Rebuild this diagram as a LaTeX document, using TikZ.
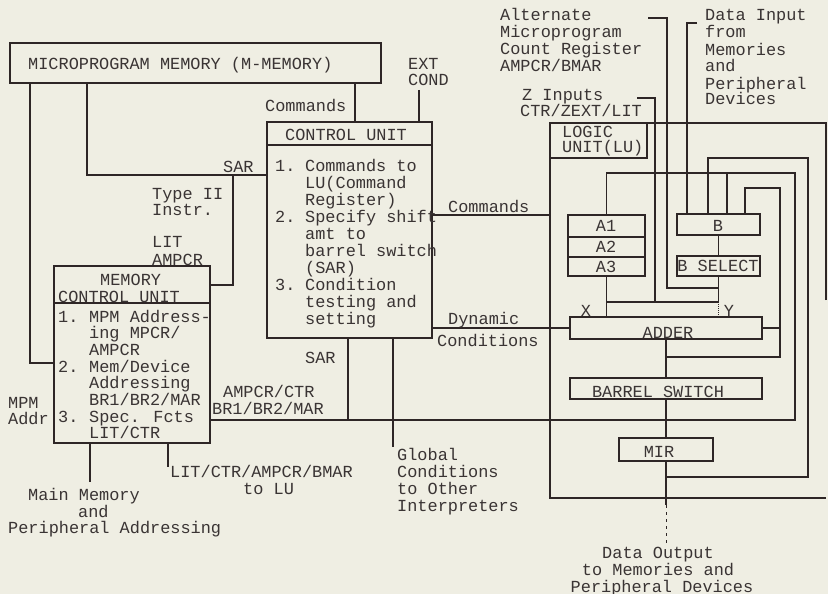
\documentclass[tikz,border=0pt]{standalone}
\usepackage{fontspec}
\newfontfamily\monofam{Liberation Mono}
\definecolor{ink}{HTML}{2E2626}
\definecolor{bg}{HTML}{EFEEE3}
\definecolor{txt}{HTML}{3A3434}
\begin{document}
\begin{tikzpicture}[x=1pt,y=-1pt,
 wire/.style={draw=ink,line width=1.3pt},
 blk/.style={draw=ink,line width=1.3pt,inner sep=0pt,outer sep=0pt,anchor=north west},
 t/.style={text=txt,font=\monofam\fontsize{16.9}{17}\selectfont,inner sep=0pt,anchor=base west},
 tc/.style={t,anchor=base}]
\useasboundingbox (0,0) rectangle (828,594);
\fill[bg] (0,0) rectangle (828,594);

% ---------- boxes ----------
\node[blk,minimum width=371pt,minimum height=40pt] (mpm) at (10,43) {};
\node[blk,minimum width=165pt,minimum height=216pt] (cu) at (267,122) {};
\node[blk,minimum width=156pt,minimum height=177pt] (mcu) at (54,266) {};
\node[inner sep=0pt,outer sep=0pt,anchor=north west,minimum width=276pt,minimum height=375pt] (lu) at (550,123) {};
\node[blk,minimum width=97pt,minimum height=35pt] (luh) at (550,123) {};
\node[blk,minimum width=77pt,minimum height=22pt] (a1) at (568,215) {};
\node[blk,minimum width=77pt,minimum height=20pt] (a2) at (568,237) {};
\node[blk,minimum width=77pt,minimum height=19pt] (a3) at (568,257) {};
\node[blk,minimum width=83pt,minimum height=21pt] (bb) at (677,214) {};
\node[blk,minimum width=83pt,minimum height=20pt] (bsel) at (677,256) {};
\node[blk,minimum width=192pt,minimum height=22pt] (adder) at (570,317) {};
\node[blk,minimum width=192pt,minimum height=21pt] (barrel) at (570,378) {};
\node[blk,minimum width=94pt,minimum height=23pt] (mir) at (619,438) {};

% LU outline (right edge only partly visible)
\draw[wire] (lu.east |- 0,300) -- (lu.north east) -- (lu.north west) -- (lu.south west) -- (lu.south east);
% header separators
\draw[wire] (cu.west |- 0,145) -- (cu.east |- 0,145);
\draw[wire] (mcu.west |- 0,303) -- (mcu.east |- 0,303);

% ---------- free ends / junctions ----------
\coordinate (j1) at (233,175);
\coordinate (extc) at (419,90);
\coordinate (zst) at (637,98);
\coordinate (altst) at (648,18);
\coordinate (din) at (697,23);
\coordinate (jb) at (727,173);
\coordinate (gc) at (393,447);
\coordinate (mm) at (90,482);
\coordinate (lt) at (168,467);
\coordinate (dout) at (666,543);

% ---------- connectors ----------
\draw[wire] (mpm.south -| 30,0) -- (30,363) -- (mcu.west |- 0,363);
\draw[wire] (mpm.south -| 87,0) |- (cu.west |- 0,175);
\draw[wire] (j1) |- (mcu.east |- 0,285);
\draw[wire] (mpm.south -| 355,0) -- (cu.north -| 355,0);
\draw[wire] (extc) -- (cu.north -| extc);
\draw[wire] (cu.east |- 0,215) -- (lu.west |- 0,215);
\draw[wire] (cu.east |- adder.west) -- (adder.west);
\draw[wire] (cu.south -| 348,0) -- (348,420);
\draw[wire] (cu.south -| gc) -- (gc);
% bus from memory control unit
\draw[wire] (mcu.east |- 0,420) -- (795,420) -- (795,173) -- (a1.north |- 0,173) -- (a1.north);
\draw[wire] (jb) -- (bb.north -| jb);
% inputs from above
\draw[wire] (zst) -- (655,98) -- (655,302);
\draw[wire] (altst) -- (667,18) -- (667,288) -- (bsel.south |- 0,288);
\draw[wire] (din) -- (687,23) -- (bb.north -| 687,0);
% X / Y
\draw[wire] (a3.south) -- (adder.north -| a3.south);
\draw[wire] (a3.south |- 0,302) -- (bsel.south |- 0,302);
\draw[wire] (bsel.south) -- (bsel.south |- 0,302);
\draw[draw=ink,line width=1pt,densely dotted] (bsel.south |- 0,302) -- (adder.north -| bsel.south);
\draw[wire] (bb.south) -- (bsel.north);
% adder feedback
\draw[wire] (adder.south) -- (barrel.north);
\draw[wire] (adder.south |- 0,357) -- (780,357) -- (780,188) -- (745,188) -- (bb.north -| 745,0);
\draw[wire] (adder.east) -- (adder.east -| 780,0);
% barrel / MIR
\draw[wire] (barrel.south) -- (mir.north -| barrel.south);
\draw[wire] (mir.south) -- (mir.south |- 0,477) -- (808,477) -- (808,158) -- (708,158) -- (bb.north -| 708,0);
\draw[wire] (mir.south |- 0,477) -- (mir.south |- 0,505);
\draw[draw=ink,line width=1pt,dashed,dash pattern=on 3pt off 4pt] (mir.south |- 0,505) -- (dout);
% memory control unit outputs
\draw[wire] (mcu.south -| mm) -- (mm);
\draw[wire] (mcu.south -| lt) -- (lt);

% ---------- texts ----------
\node[t] (tmpm) at (28,70) {MICROPROGRAM MEMORY (M-MEMORY)};
\node[t] (text1) at (408,70) {EXT};
\node[t] (text2) at (408,86) {COND};
\node[t] (tcmd1) at (265,112) {Commands};
\node[t] (tsar1) at (223,172) {SAR};
\node[t] (ttyp1) at (152,199) {Type II};
\node[t] (ttyp2) at (152,215) {Instr.};
\node[t] (tlit1) at (152,247) {LIT};
\node[t] (tlit2) at (152,265) {AMPCR};

\node[t] (tcuh) at (285,140) {CONTROL UNIT};
\node[t] (tcu1) at (275,171) {1.};
\node[t] (tcu1b) at (305,171) {Commands to};
\node[t] (tcu2) at (305,188) {LU(Command};
\node[t] (tcu3) at (305,205) {Register)};
\node[t] (tcu4) at (275,222) {2.};
\node[t] (tcu4b) at (305,222) {Specify shift};
\node[t] (tcu5) at (305,239) {amt to};
\node[t] (tcu6) at (305,256) {barrel switch};
\node[t] (tcu7) at (305,273) {(SAR)};
\node[t] (tcu8) at (275,290) {3.};
\node[t] (tcu8b) at (305,290) {Condition};
\node[t] (tcu9) at (305,307) {testing and};
\node[t] (tcu10) at (305,324) {setting};

\node[t] (tmch1) at (100,285) {MEMORY};
\node[t] (tmch2) at (58,302) {CONTROL UNIT};
\node[t] (tmc1) at (58,322) {1.};
\node[t] (tmc1b) at (89,322) {MPM Address-};
\node[t] (tmc2) at (89,338) {ing MPCR/};
\node[t] (tmc3) at (89,355) {AMPCR};
\node[t] (tmc4) at (58,372) {2.};
\node[t] (tmc4b) at (89,372) {Mem/Device};
\node[t] (tmc5) at (89,388) {Addressing};
\node[t] (tmc6) at (89,405) {BR1/BR2/MAR};
\node[t] (tmc7) at (58,422) {3.};
\node[t] (tmc7b) at (89,422) {Spec. Fcts};
\node[t] (tmc8) at (89,438) {LIT/CTR};

\node[t] (tmpa1) at (8,408) {MPM};
\node[t] (tmpa2) at (8,424) {Addr};
\node[t] (tbus1) at (223,397) {AMPCR/CTR};
\node[t] (tbus2) at (212,414) {BR1/BR2/MAR};
\node[t] (tsar2) at (305,363) {SAR};
\node[t] (tlu1) at (170,477) {LIT/CTR/AMPCR/BMAR};
\node[t] (tlu2) at (243,494) {to LU};
\node[t] (tmm1) at (28,500) {Main Memory};
\node[t] (tmm2) at (78,517) {and};
\node[t] (tmm3) at (8,533) {Peripheral Addressing};
\node[t] (tgc1) at (397,460) {Global};
\node[t] (tgc2) at (397,477) {Conditions};
\node[t] (tgc3) at (397,494) {to Other};
\node[t] (tgc4) at (397,511) {Interpreters};

\node[t] (tcmd2) at (448,212) {Commands};
\node[t] (tdyn1) at (448,324) {Dynamic};
\node[t] (tdyn2) at (437,346) {Conditions};

\node[t] (talt1) at (500,21) {Alternate};
\node[t] (talt2) at (500,38) {Microprogram};
\node[t] (talt3) at (500,55) {Count Register};
\node[t] (talt4) at (500,72) {AMPCR/BMAR};
\node[t] (tz1) at (522,100) {Z Inputs};
\node[t] (tz2) at (520,117) {CTR/ZEXT/LIT};
\node[t] (tdi1) at (705,21) {Data Input};
\node[t] (tdi2) at (705,38) {from};
\node[t] (tdi3) at (705,56) {Memories};
\node[t] (tdi4) at (705,72) {and};
\node[t] (tdi5) at (705,89) {Peripheral};
\node[t] (tdi6) at (705,105) {Devices};
\node[t] (tluh1) at (562,137) {LOGIC};
\node[t] (tluh2) at (562,153) {UNIT(LU)};

\node[tc] (ta1) at (606,231) {A1};
\node[tc] (ta2) at (606,252) {A2};
\node[tc] (ta3) at (606,272) {A3};
\node[tc] (tb) at (718,231) {B};
\node[tc] (tbs) at (718,271) {B SELECT};
\node[tc] (tx) at (586,316) {X};
\node[tc] (ty) at (729,316) {Y};
\node[tc] (tadd) at (668,338) {ADDER};
\node[tc] (tbar) at (658,397) {BARREL SWITCH};
\node[tc] (tmir) at (659,457) {MIR};
\node[tc] (tdo1) at (658,558) {Data Output};
\node[tc] (tdo2) at (658,575) {to Memories and};
\node[tc] (tdo3) at (662,592) {Peripheral Devices};
\end{tikzpicture}
\end{document}
